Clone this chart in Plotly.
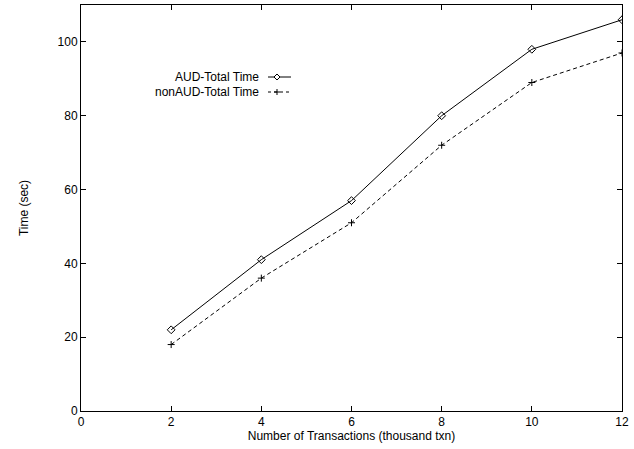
import plotly.graph_objects as go

x_vals = [2, 4, 6, 8, 10, 12]
aud_total = [22, 41, 57, 80, 98, 106]
nonaud_total = [18, 36, 51, 72, 89, 97]
series_names = ["AUD-Total Time", "nonAUD-Total Time"]

FONT = "Liberation Sans, Arial, Helvetica, sans-serif"
FS = 12
W, H = 634, 449
ml, mr, mt, mb = 81, 12, 5, 38
pw, ph = W - ml - mr, H - mt - mb

fig = go.Figure()
fig.add_trace(go.Scatter(x=x_vals, y=aud_total, name=series_names[0], mode="lines+markers",
                         line=dict(color="black", width=1),
                         marker=dict(symbol="diamond-open", size=6, color="black", line=dict(width=1))))
fig.add_trace(go.Scatter(x=x_vals, y=nonaud_total, name=series_names[1], mode="lines+markers",
                         line=dict(color="black", width=1, dash="4px,3px"),
                         marker=dict(symbol="cross-thin-open", size=5, color="black", line=dict(width=1, color="black"))))

def px2paper(xp, yp):
    return (xp - ml) / pw, 1 - (yp - mt) / ph

# legend drawn gnuplot-style: text on left, sample on right
legend_rows = [(77, "solid", "diamond"), (92, "dash", "cross")]
for name, (yp, dash, sym) in zip(series_names, legend_rows):
    tx, ty = px2paper(261, yp)
    fig.add_annotation(x=tx, y=ty, xref="paper", yref="paper", text=name, showarrow=False,
                       xanchor="right", yanchor="middle",
                       font=dict(family=FONT, size=FS, color="black"))
    x0, y0 = px2paper(268, yp)
    x1, _ = px2paper(291, yp)
    fig.add_shape(type="line", xref="paper", yref="paper", x0=x0, x1=x1, y0=y0, y1=y0,
                  line=dict(color="black", width=1, dash="3px,3px" if dash == "dash" else "solid"))
    cx, cy = px2paper(277, yp)
    dx, dy = 3 / pw, 3 / ph
    if sym == "diamond":
        path = f"M {cx-dx},{cy} L {cx},{cy+dy} L {cx+dx},{cy} L {cx},{cy-dy} Z"
        fig.add_shape(type="path", xref="paper", yref="paper", path=path,
                      line=dict(color="black", width=1), fillcolor="white")
    else:
        fig.add_shape(type="line", xref="paper", yref="paper", x0=cx - dx, x1=cx + dx, y0=cy, y1=cy,
                      line=dict(color="black", width=1))
        fig.add_shape(type="line", xref="paper", yref="paper", x0=cx, x1=cx, y0=cy - dy, y1=cy + dy,
                      line=dict(color="black", width=1))

axis_common = dict(showgrid=False, zeroline=False, showline=True, linecolor="black", linewidth=1,
                   mirror="ticks", ticks="inside", ticklen=5, tickcolor="black", tickwidth=1,
                   tickfont=dict(family=FONT, size=FS, color="black"))
fig.update_xaxes(range=[0, 12], dtick=2, tick0=0,
                 title=dict(text="Number of Transactions (thousand txn)", standoff=2,
                            font=dict(family=FONT, size=FS, color="black")), **axis_common)
fig.update_yaxes(range=[0, 110], dtick=20, tick0=0,
                 title=dict(text="Time (sec)", standoff=26,
                            font=dict(family=FONT, size=FS, color="black")), **axis_common)

fig.update_layout(width=W, height=H, margin=dict(l=ml, r=mr, t=mt, b=mb, autoexpand=False),
                  paper_bgcolor="white", plot_bgcolor="white", showlegend=False,
                  font=dict(family=FONT, size=FS, color="black"))
fig.write_html("out.html", config={"displayModeBar": False},
               post_script="document.body.style.margin='0';")
